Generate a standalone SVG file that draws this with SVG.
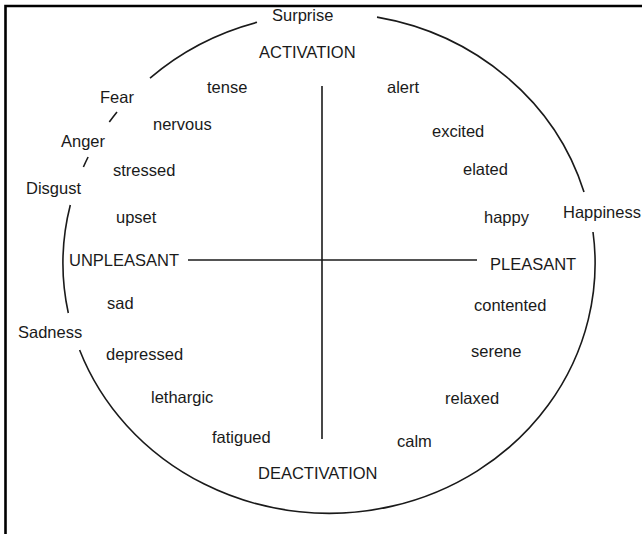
<svg xmlns="http://www.w3.org/2000/svg" width="642" height="534" viewBox="0 0 642 534">
<style>
text{font-family:"Liberation Sans",Arial,sans-serif;font-size:16.5px;fill:#1a1a1a}
.ln{fill:none;stroke:#1a1a1a;stroke-width:1.6}
.bd{fill:none;stroke:#000;stroke-width:2.6}
</style>
<rect width="642" height="534" fill="#fff"/>
<g id="border">
<path class="bd" d="M5.5,534 V6 H642"/>
</g>
<g id="connectors">
<path class="ln" d="M150,78.1 A266,250 0 0 1 257,22.3"/>
<path class="ln" d="M377,17.1 A266,250 0 0 1 584,192"/>
<path class="ln" d="M593,232 A266,250 0 0 1 79.6,350"/>
<path class="ln" d="M68.3,313 A266,250 0 0 1 70.3,205"/>
<path class="ln" d="M109.3,122 A266,250 0 0 1 117,112"/>
<path class="ln" d="M83.4,167 A266,250 0 0 1 88.1,157"/>
<line class="ln" x1="322" y1="86" x2="322" y2="439"/>
<line class="ln" x1="188" y1="260" x2="477" y2="260"/>
</g>
<g id="n-surprise"><text x="272" y="21">Surprise</text></g>
<g id="n-activation"><text x="259" y="58">ACTIVATION</text></g>
<g id="n-deactivation"><text x="258" y="479">DEACTIVATION</text></g>
<g id="n-unpleasant"><text x="69" y="266">UNPLEASANT</text></g>
<g id="n-pleasant"><text x="490" y="270">PLEASANT</text></g>
<g id="n-fear"><text x="100" y="103">Fear</text></g>
<g id="n-anger"><text x="61" y="147">Anger</text></g>
<g id="n-disgust"><text x="26" y="194">Disgust</text></g>
<g id="n-sadness"><text x="18" y="338">Sadness</text></g>
<g id="n-happiness"><text x="563" y="218">Happiness</text></g>
<g id="n-tense"><text x="207" y="93">tense</text></g>
<g id="n-nervous"><text x="153" y="130">nervous</text></g>
<g id="n-stressed"><text x="113" y="176">stressed</text></g>
<g id="n-upset"><text x="116" y="223">upset</text></g>
<g id="n-sad"><text x="107" y="309">sad</text></g>
<g id="n-depressed"><text x="106" y="360">depressed</text></g>
<g id="n-lethargic"><text x="151" y="403">lethargic</text></g>
<g id="n-fatigued"><text x="212" y="443">fatigued</text></g>
<g id="n-alert"><text x="387" y="93">alert</text></g>
<g id="n-excited"><text x="432" y="137">excited</text></g>
<g id="n-elated"><text x="463" y="175">elated</text></g>
<g id="n-happy"><text x="484" y="223">happy</text></g>
<g id="n-contented"><text x="474" y="311">contented</text></g>
<g id="n-serene"><text x="471" y="357">serene</text></g>
<g id="n-relaxed"><text x="445" y="404">relaxed</text></g>
<g id="n-calm"><text x="397" y="447">calm</text></g>
</svg>
